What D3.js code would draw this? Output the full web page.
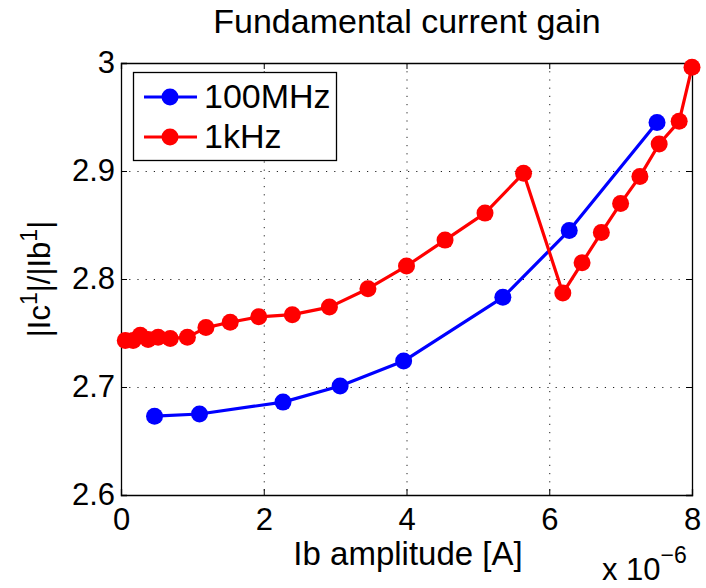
<!DOCTYPE html>
<html>
<head>
<meta charset="utf-8">
<script src="https://cdn.jsdelivr.net/npm/d3@7"></script>
<style>
  html, body { margin: 0; padding: 0; background: #fff; }
  text { font-family: "Liberation Sans", Arial, Helvetica, sans-serif; fill: #000; }
</style>
</head>
<body>
<svg id="chart" width="706" height="588"></svg>
<script>
// Base current amplitude (units of 1e-6 A) and fundamental current gain
const hfIb   = [0.47, 1.10, 2.27, 3.07, 3.96, 5.35, 6.28, 7.51];
const hfGain = [2.673, 2.675, 2.686, 2.701, 2.724, 2.783, 2.845, 2.945];

const lfIb   = [0.06, 0.17, 0.27, 0.38, 0.52, 0.69, 0.93, 1.19, 1.53, 1.93, 2.40, 2.92, 3.46, 4.00,
                4.54, 5.10, 5.64, 6.19, 6.46, 6.73, 7.00, 7.27, 7.54, 7.82, 8.00];
const lfGain = [2.743, 2.743, 2.748, 2.744, 2.746, 2.745, 2.746, 2.755, 2.760, 2.765, 2.767, 2.774, 2.791, 2.812,
                2.836, 2.861, 2.898, 2.787, 2.815, 2.843, 2.870, 2.895, 2.925, 2.946, 2.996];

const seriesNames  = ["100MHz", "1kHz"];
const seriesColors = ["#0000ff", "#ff0000"];
const xTicks = [0, 2, 4, 6, 8];
const yTicks = [2.6, 2.7, 2.8, 2.9, 3.0];

const svg = d3.select("#chart");
const L = 121, R = 692, T = 63, B = 495;

const x = d3.scaleLinear().domain([0, 8]).range([L, R]);
const y = d3.scaleLinear().domain([2.6, 3.0]).range([B, T]);

// dotted grid
const grid = svg.append("g").attr("stroke", "#222").attr("stroke-width", 1)
  .attr("stroke-dasharray", "1.2,7");
grid.selectAll(".gx").data(xTicks.slice(1, -1)).join("line")
  .attr("x1", d => x(d) + 0.5).attr("x2", d => x(d) + 0.5).attr("y1", T).attr("y2", B);
grid.selectAll(".gy").data(yTicks.slice(1, -1)).join("line")
  .attr("y1", d => y(d) + 0.5).attr("y2", d => y(d) + 0.5).attr("x1", L).attr("x2", R);

// axes with inward ticks on all four sides
const fmtY = d => d === 3 ? "3" : d3.format(".1f")(d);
const axB = d3.axisBottom(x).tickValues(xTicks).tickSize(-6).tickPadding(13).tickFormat(d3.format("d"));
const axL = d3.axisLeft(y).tickValues(yTicks).tickSize(-6).tickPadding(6).tickFormat(fmtY);
const axT = d3.axisTop(x).tickValues(xTicks).tickSize(-6).tickFormat("");
const axR = d3.axisRight(y).tickValues(yTicks).tickSize(-6).tickFormat("");

function styleAxis(g) {
  g.selectAll(".domain").attr("stroke", "#000").attr("stroke-width", 1.3);
  g.selectAll(".tick line").attr("stroke", "#000").attr("stroke-width", 1);
  g.selectAll(".tick text").attr("font-size", 31);
}
svg.append("g").attr("transform", `translate(0,${B})`).call(axB).call(styleAxis);
svg.append("g").attr("transform", `translate(${L},0)`).call(axL).call(styleAxis);
svg.append("g").attr("transform", `translate(0,${T})`).call(axT).call(styleAxis);
svg.append("g").attr("transform", `translate(${R},0)`).call(axR).call(styleAxis);
svg.selectAll("g").attr("font-family", null);

// series
const series = [
  { name: seriesNames[0], color: seriesColors[0], xs: hfIb, ys: hfGain },
  { name: seriesNames[1], color: seriesColors[1], xs: lfIb, ys: lfGain }
];
const line = d3.line().x(d => x(d[0])).y(d => y(d[1]));
series.forEach(s => {
  const pts = s.xs.map((v, i) => [v, s.ys[i]]);
  const g = svg.append("g");
  g.append("path").datum(pts).attr("d", line).attr("fill", "none")
    .attr("stroke", s.color).attr("stroke-width", 3.2).attr("stroke-linejoin", "round");
  g.selectAll("circle").data(pts).join("circle")
    .attr("cx", d => x(d[0])).attr("cy", d => y(d[1])).attr("r", 8.5).attr("fill", s.color);
});

// title
svg.append("text").attr("x", 407).attr("y", 33).attr("text-anchor", "middle")
  .attr("font-size", 34).text("Fundamental current gain");

// x label and exponent
svg.append("text").attr("x", 408).attr("y", 565).attr("text-anchor", "middle")
  .attr("font-size", 33).text("Ib amplitude [A]");
const ex = svg.append("text").attr("x", 602).attr("y", 580).attr("font-size", 31);
ex.append("tspan").text("x 10");
ex.append("tspan").attr("font-size", 23).attr("dy", -17).text("\u22126");

// y label with superscripts
const yl = svg.append("text").attr("transform", "translate(50,279) rotate(-90)")
  .attr("text-anchor", "middle").attr("font-size", 31);
yl.append("tspan").text("|Ic");
yl.append("tspan").attr("font-size", 23).attr("dy", -13).text("1");
yl.append("tspan").attr("dy", 13).text("|/|Ib");
yl.append("tspan").attr("font-size", 23).attr("dy", -13).text("1");
yl.append("tspan").attr("dy", 13).text("|");

// legend
const lg = svg.append("g");
lg.append("rect").attr("x", 133.5).attr("y", 72.5).attr("width", 203).attr("height", 88)
  .attr("fill", "#fff").attr("stroke", "#000").attr("stroke-width", 1.3);
series.forEach((s, i) => {
  const cy = 97 + i * 40;
  lg.append("line").attr("x1", 144).attr("x2", 197).attr("y1", cy).attr("y2", cy)
    .attr("stroke", s.color).attr("stroke-width", 3.2);
  lg.append("circle").attr("cx", 170).attr("cy", cy).attr("r", 8.5).attr("fill", s.color);
  lg.append("text").attr("x", 204).attr("y", cy + 11).attr("font-size", 34).text(s.name);
});
</script>
</body>
</html>
